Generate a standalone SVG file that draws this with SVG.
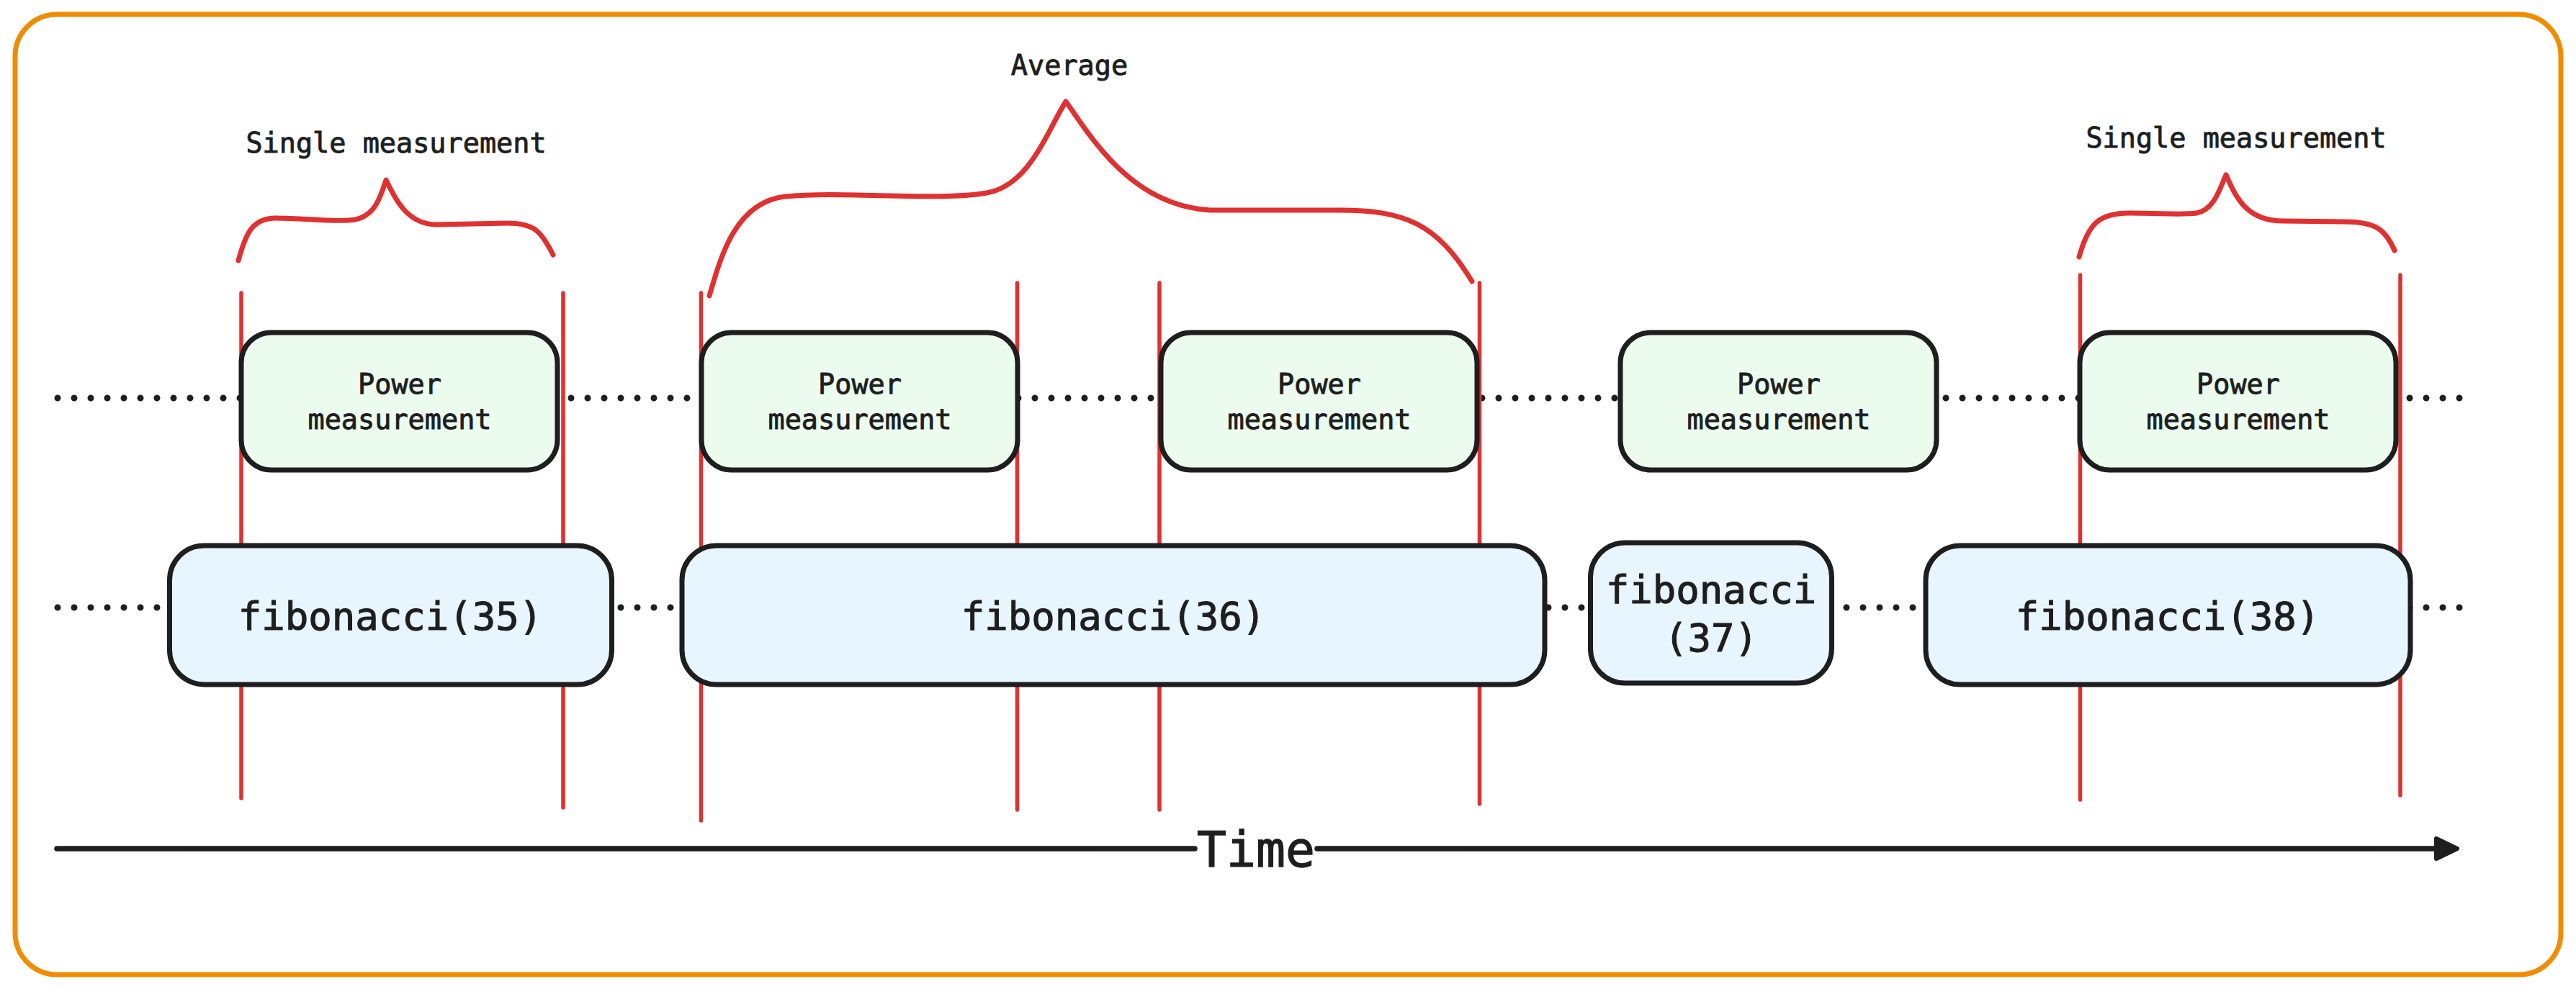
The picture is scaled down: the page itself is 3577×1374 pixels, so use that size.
<svg xmlns="http://www.w3.org/2000/svg" width="3577" height="1374" viewBox="0 0 3577 1374">
<defs>
<style>
.txt{font-family:"DejaVu Sans Mono","Liberation Mono",monospace;fill:#1e1e1e;stroke:#1e1e1e;stroke-width:0.9;text-anchor:middle}
.lbl{font-size:38.5px}
.fib{font-size:54px;stroke-width:1.1}
.pm{fill:#ebfbee;stroke:#1e1e1e;stroke-width:7}
.fb{fill:#e7f5ff;stroke:#1e1e1e;stroke-width:7}
.red{stroke:#e03131;stroke-width:5.5;fill:none;stroke-linecap:round}
.brace{stroke:#e03131;stroke-width:7;fill:none;stroke-linecap:round;stroke-linejoin:round}
.dots{stroke:#1e1e1e;stroke-width:9;stroke-linecap:round;stroke-dasharray:0 23;fill:none}
.axis{stroke:#1e1e1e;stroke-width:7.5;stroke-linecap:round;fill:none}
</style>
</defs>
<rect x="0" y="0" width="3577" height="1374" fill="#ffffff"/>
<rect id="frame" x="21" y="20" width="3535" height="1334" rx="58" ry="58" fill="none" stroke="#f08c00" stroke-width="7"/>

<g id="connectors">
<line class="dots" x1="80" y1="553" x2="3420" y2="553"/>
<line class="dots" x1="80" y1="844" x2="3418" y2="844"/>
<line class="red" x1="335" y1="407" x2="335" y2="1109"/>
<line class="red" x1="782" y1="407" x2="782" y2="1122"/>
<line class="red" x1="973.5" y1="407" x2="973.5" y2="1140"/>
<line class="red" x1="1412.5" y1="393" x2="1412.5" y2="1125"/>
<line class="red" x1="1610" y1="393" x2="1610" y2="1125"/>
<line class="red" x1="2054.5" y1="393" x2="2054.5" y2="1117"/>
<line class="red" x1="2888.5" y1="382" x2="2888.5" y2="1111"/>
<line class="red" x1="3333" y1="382" x2="3333" y2="1105"/>
<path class="brace" d="M331,362 C341,325 350,303 383,303 C420,303 455,308 485,306 C520,304 528,275 536,250 C548,275 565,312 606,312 L705,310 C742,310 752,322 768,354"/>
<path class="brace" d="M985,411 C1000,360 1020,281 1090,273 C1170,265 1300,280 1370,268 C1430,258 1455,180 1480,141 C1515,190 1570,285 1680,292 L1860,292 C1950,292 1995,310 2044,391"/>
<path class="brace" d="M2887,357 C2900,310 2915,296 2957,296 C3000,296 3030,299 3050,296 C3075,292 3083,260 3091,243 C3105,275 3120,307 3170,307 L3255,308 C3300,308 3313,320 3325,348"/>
<line class="axis" x1="79" y1="1179" x2="1659" y2="1179"/>
<line class="axis" x1="1829" y1="1179" x2="3385" y2="1179"/>
<polygon points="3383,1165 3412,1179 3383,1193" fill="#1e1e1e" stroke="#1e1e1e" stroke-width="6" stroke-linejoin="round"/>
</g>

<g id="pm1"><rect class="pm" x="335" y="462" width="439" height="191" rx="42"/><text class="txt lbl" x="555" y="547">Power</text><text class="txt lbl" x="555" y="596">measurement</text></g>
<g id="pm2"><rect class="pm" x="974" y="462" width="439" height="191" rx="42"/><text class="txt lbl" x="1194" y="547">Power</text><text class="txt lbl" x="1194" y="596">measurement</text></g>
<g id="pm3"><rect class="pm" x="1612" y="462" width="439" height="191" rx="42"/><text class="txt lbl" x="1832" y="547">Power</text><text class="txt lbl" x="1832" y="596">measurement</text></g>
<g id="pm4"><rect class="pm" x="2250" y="462" width="439" height="191" rx="42"/><text class="txt lbl" x="2470" y="547">Power</text><text class="txt lbl" x="2470" y="596">measurement</text></g>
<g id="pm5"><rect class="pm" x="2888" y="462" width="439" height="191" rx="42"/><text class="txt lbl" x="3108" y="547">Power</text><text class="txt lbl" x="3108" y="596">measurement</text></g>

<g id="fib35"><rect class="fb" x="235.5" y="758" width="614" height="193" rx="48"/><text class="txt fib" x="542" y="875">fibonacci(35)</text></g>
<g id="fib36"><rect class="fb" x="947" y="758" width="1198" height="193" rx="48"/><text class="txt fib" x="1546" y="875">fibonacci(36)</text></g>
<g id="fib37"><rect class="fb" x="2208.5" y="754" width="335" height="195" rx="48"/><text class="txt fib" x="2376" y="838">fibonacci</text><text class="txt fib" x="2376" y="905">(37)</text></g>
<g id="fib38"><rect class="fb" x="2674" y="758" width="673" height="193" rx="48"/><text class="txt fib" x="3010" y="875">fibonacci(38)</text></g>

<g id="labels">
<text class="txt lbl" x="550" y="212">Single measurement</text>
<text class="txt lbl" x="1485" y="104">Average</text>
<text class="txt lbl" x="3105" y="205">Single measurement</text>
<text class="txt" style="font-size:68px;stroke-width:1.3" x="1744" y="1204">Time</text>
</g>
</svg>
